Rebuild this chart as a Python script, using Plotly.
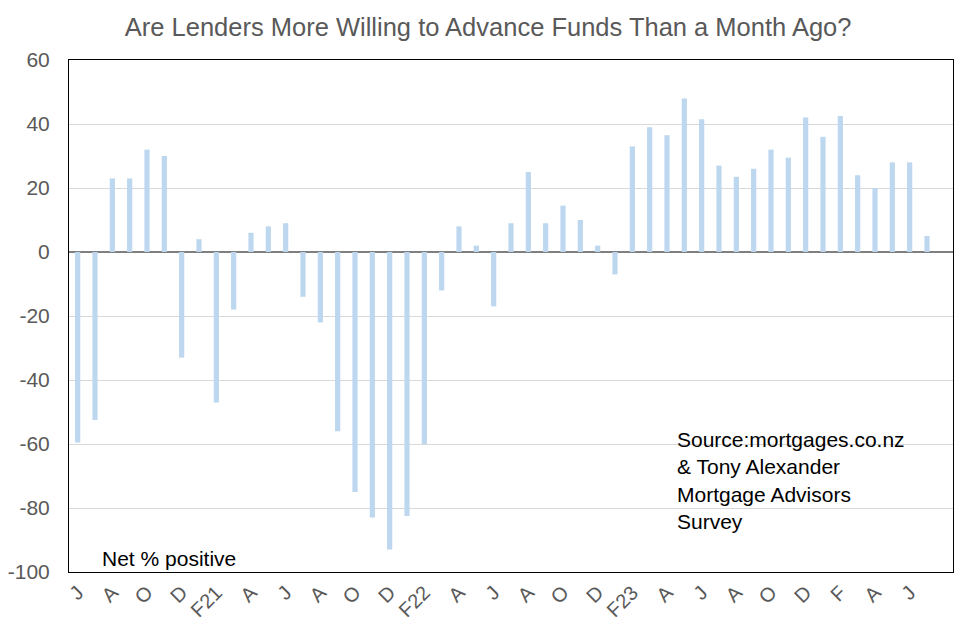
import plotly.graph_objects as go

# Monthly survey, Jun 2020 to Jul 2024 (net % of advisors saying lenders are more willing)
months = [
    "Jun20", "Jul20", "Aug20", "Sep20", "Oct20", "Nov20", "Dec20",
    "Jan21", "Feb21", "Mar21", "Apr21", "May21", "Jun21", "Jul21", "Aug21",
    "Sep21", "Oct21", "Nov21", "Dec21",
    "Jan22", "Feb22", "Mar22", "Apr22", "May22", "Jun22", "Jul22", "Aug22",
    "Sep22", "Oct22", "Nov22", "Dec22",
    "Jan23", "Feb23", "Mar23", "Apr23", "May23", "Jun23", "Jul23", "Aug23",
    "Sep23", "Oct23", "Nov23", "Dec23",
    "Jan24", "Feb24", "Mar24", "Apr24", "May24", "Jun24", "Jul24",
]
net_positive = [
    -59.5, -52.5, 23, 23, 32, 30, -33,
    4, -47, -18, 6, 8, 9, -14, -22,
    -56, -75, -83, -93,
    -82.5, -60, -12, 8, 2, -17, 9, 25,
    9, 14.5, 10, 2,
    -7, 33, 39, 36.5, 48, 41.5, 27, 23.5,
    26, 32, 29.5, 42,
    36, 42.5, 24, 20, 28, 28, 5,
]
tick_months = months[::2]
tick_labels = [
    "J", "A", "O", "D", "F21", "A", "J", "A", "O", "D", "F22", "A", "J",
    "A", "O", "D", "F23", "A", "J", "A", "O", "D", "F", "A", "J",
]
y_ticks = [-100, -80, -60, -40, -20, 0, 20, 40, 60]

grey = "#595959"

fig = go.Figure(
    go.Bar(
        x=months,
        y=net_positive,
        marker_color="#BDD7EE",
        marker_line_width=0,
        width=0.3,
        showlegend=False,
    )
)

# page body adds ~8px on the top/left, so the figure is drawn 8px smaller
fig.update_layout(
    width=968,
    height=628,
    margin=dict(l=61, r=23, t=52, b=64),
    paper_bgcolor="white",
    plot_bgcolor="white",
    font=dict(family="Liberation Sans, Arial, sans-serif", color=grey),
    title=dict(
        text="Are Lenders More Willing to Advance Funds Than a Month Ago?",
        x=0.496,
        xref="container",
        xanchor="center",
        y=0.97,
        yanchor="middle",
        font=dict(size=25.5, color=grey),
    ),
    annotations=[
        dict(
            x=0.035, y=0.0, xref="paper", yref="paper",
            xanchor="left", yanchor="bottom",
            text="Net % positive", showarrow=False,
            font=dict(size=21, color="black"),
        ),
        dict(
            x=0.685, y=0.285, xref="paper", yref="paper",
            xanchor="left", yanchor="top", align="left",
            text="Source:mortgages.co.nz<br>& Tony Alexander<br>Mortgage Advisors<br>Survey",
            showarrow=False,
            font=dict(size=21, color="black"),
        ),
    ],
)

fig.update_xaxes(
    type="category",
    range=[-0.5, 50.5],
    tickmode="array",
    tickvals=tick_months,
    ticktext=tick_labels,
    tickangle=-45,
    tickfont=dict(size=20, color=grey),
    showgrid=False,
    showline=True,
    linecolor="black",
    linewidth=1,
    mirror=True,
    ticks="",
    automargin=False,
)

fig.update_yaxes(
    range=[-100, 60],
    tickmode="array",
    tickvals=y_ticks,
    ticktext=[str(v) for v in y_ticks],
    tickfont=dict(size=21, color=grey),
    showgrid=True,
    gridcolor="#D9D9D9",
    gridwidth=1,
    zeroline=True,
    zerolinecolor="#7F7F7F",
    zerolinewidth=2,
    showline=True,
    linecolor="black",
    linewidth=1,
    mirror=True,
    ticks="",
    ticklabelstandoff=14,
    automargin=False,
)

fig.write_html("out.html")
